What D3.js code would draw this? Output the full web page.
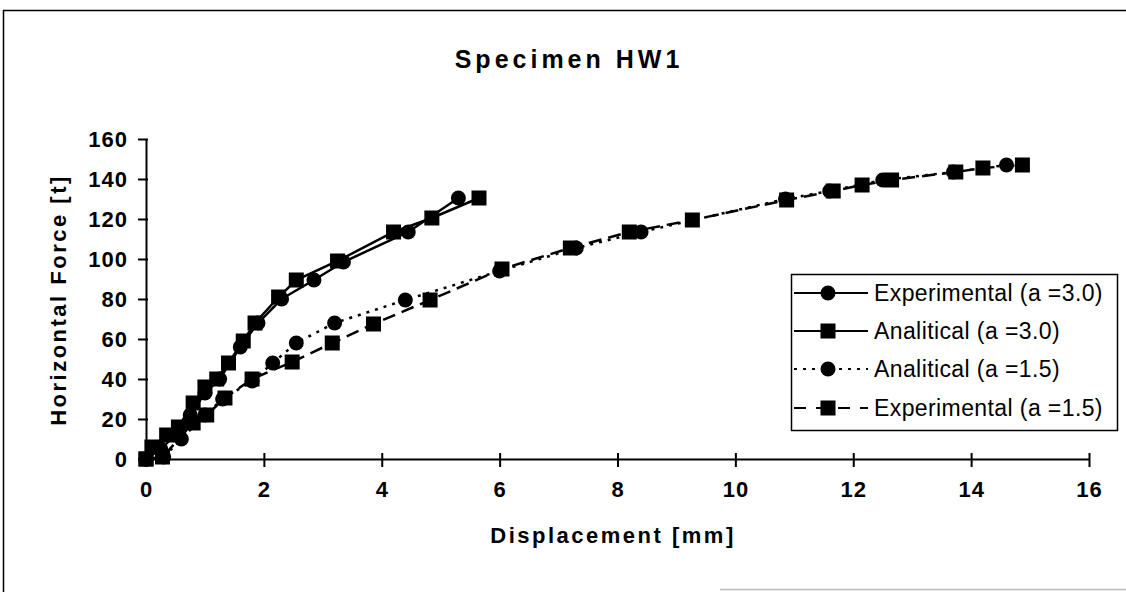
<!DOCTYPE html>
<html>
<head>
  <script src="https://d3js.org/d3.v7.min.js"></script>
  <style>
    body { margin: 0; background: #fff; }
    text { font-family: "Liberation Sans", Arial, sans-serif; fill: #000; }
    .axis path, .axis line { stroke: #000; stroke-width: 2px; }
    .axis text { font-size: 22px; letter-spacing: 1px; font-weight: bold; }
    .ttl { font-weight: bold; }
    .leg text { font-size: 23px; letter-spacing: 0.4px; }
  </style>
</head>
<body>
<script>
// series values: [displacement mm, force t]
var expA30 = [[0,0],[0.25,5],[0.5,12],[0.75,22],[1.0,33],[1.25,40],[1.6,56],[1.9,68],[2.3,80],[2.85,89.5],[3.35,98.5],[4.45,113.5],[5.3,130.5]];
var anaA30 = [[0,0],[0.1,6],[0.35,12],[0.55,16],[0.8,28],[1.0,36],[1.2,40],[1.4,48],[1.65,59],[1.85,68],[2.25,81],[2.55,89.5],[3.25,99],[4.2,113.5],[4.85,120.5],[5.65,130.5]];
var anaA15 = [[0,0],[0.3,1],[0.6,10],[1.0,22],[1.3,30],[1.8,39],[2.15,48],[2.55,58],[3.2,68],[4.4,79.5],[6.0,94],[7.3,105.5],[8.4,113.5],[10.85,130],[11.6,134],[12.5,139.5],[13.7,143.5],[14.6,147]];
var expA15 = [[0,0],[0.28,1],[0.8,18],[1.03,22],[1.34,30.5],[1.8,40],[2.48,48.5],[3.16,58],[3.86,67.5],[4.82,79.5],[6.04,95],[7.2,105.5],[8.2,113.5],[9.27,119.5],[10.87,129.5],[11.66,134],[12.15,137],[12.65,139.5],[13.74,143.5],[14.2,145.5],[14.87,147]];

var seriesNames = ["Experimental (a =3.0)", "Analitical (a =3.0)", "Analitical (a =1.5)", "Experimental (a =1.5)"];
var seriesData = [expA30, anaA30, anaA15, expA15];
var seriesMarker = ["circle", "square", "circle", "square"];
var seriesDash = [null, null, "3,6", "13,7"];

var xTicks = [0, 2, 4, 6, 8, 10, 12, 14, 16];
var yTicks = [0, 20, 40, 60, 80, 100, 120, 140, 160];

var W = 1126, H = 592;
var svg = d3.select("body").append("svg").attr("width", W).attr("height", H);

// chart frame (runs off the bottom / right of the picture)
svg.append("path")
  .attr("d", "M3.5,592 V10.5 H1126")
  .attr("fill", "none").attr("stroke", "#000").attr("stroke-width", 1.5);
svg.append("line")
  .attr("x1", 720).attr("x2", 1126).attr("y1", 589.5).attr("y2", 589.5)
  .attr("stroke", "#bbb").attr("stroke-width", 1.5);

var x = d3.scaleLinear().domain([0, 16]).range([146, 1089]);
var y = d3.scaleLinear().domain([0, 160]).range([459, 139]);

var gx = svg.append("g").attr("class", "axis")
  .attr("transform", "translate(0," + y(0) + ")")
  .call(d3.axisBottom(x).tickValues(xTicks).tickSize(8).tickSizeOuter(0).tickPadding(14));
gx.selectAll(".tick line").attr("y1", -6);

var gy = svg.append("g").attr("class", "axis")
  .attr("transform", "translate(" + x(0) + ",0)")
  .call(d3.axisLeft(y).tickValues(yTicks).tickSize(8).tickSizeOuter(0).tickPadding(10));
gy.selectAll(".tick line").attr("x1", 2);

// titles
svg.append("text").attr("class", "ttl")
  .attr("x", 569).attr("y", 68).attr("text-anchor", "middle")
  .style("font-size", "25px").style("letter-spacing", "4px")
  .text("Specimen HW1");
svg.append("text").attr("class", "ttl")
  .attr("x", 613).attr("y", 543).attr("text-anchor", "middle")
  .style("font-size", "22px").style("letter-spacing", "2.5px")
  .text("Displacement [mm]");
svg.append("text").attr("class", "ttl")
  .attr("transform", "translate(66,300) rotate(-90)").attr("text-anchor", "middle")
  .style("font-size", "22px").style("letter-spacing", "2.5px")
  .text("Horizontal Force [t]");

var line = d3.line().x(function(d) { return x(d[0]); }).y(function(d) { return y(d[1]); });

function marker(g, kind, cx, cy) {
  if (kind === "circle") {
    g.append("circle").attr("cx", cx).attr("cy", cy).attr("r", 7.5).attr("fill", "#000");
  } else {
    g.append("rect").attr("x", cx - 7.5).attr("y", cy - 7.5).attr("width", 15).attr("height", 15).attr("fill", "#000");
  }
}

seriesData.forEach(function(data, i) {
  var g = svg.append("g");
  g.append("path")
    .attr("d", line(data))
    .attr("fill", "none").attr("stroke", "#000").attr("stroke-width", 2.5)
    .attr("stroke-dasharray", seriesDash[i]);
  data.forEach(function(d) { marker(g, seriesMarker[i], x(d[0]), y(d[1])); });
});

// legend
var leg = svg.append("g").attr("class", "leg");
leg.append("rect").attr("x", 791.5).attr("y", 274.5).attr("width", 326).attr("height", 156)
  .attr("fill", "#fff").attr("stroke", "#000").attr("stroke-width", 1.5);
var legY = [293, 331, 369, 408];
seriesNames.forEach(function(name, i) {
  var ly = legY[i];
  leg.append("line").attr("x1", 794).attr("x2", 868).attr("y1", ly).attr("y2", ly)
    .attr("stroke", "#000").attr("stroke-width", 2)
    .attr("stroke-dasharray", i === 2 ? "3,6" : (i === 3 ? "12,10" : null));
  marker(leg, seriesMarker[i], 828, ly);
  leg.append("text").attr("x", 874).attr("y", ly + 8).text(name);
});
</script>
</body>
</html>
